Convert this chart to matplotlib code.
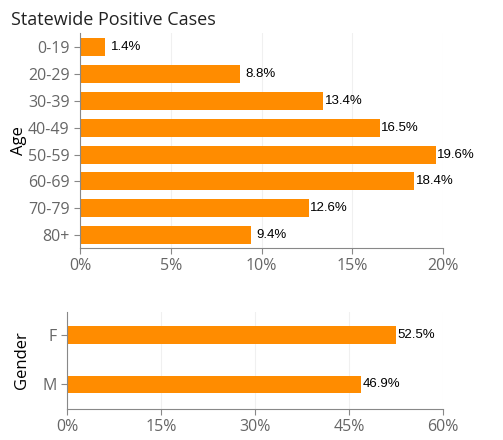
import matplotlib.pyplot as plt
from matplotlib.ticker import FuncFormatter

age_groups = ["0-19", "20-29", "30-39", "40-49", "50-59", "60-69", "70-79", "80+"]
age_pct = [1.4, 8.8, 13.4, 16.5, 19.6, 18.4, 12.6, 9.4]
age_ticks = [0, 5, 10, 15, 20]

genders = ["F", "M"]
gender_pct = [52.5, 46.9]
gender_ticks = [0, 15, 30, 45, 60]

ORANGE = "#FF8C00"
GREY = "#666666"


def style_axes(ax, ticks):
    ax.set_xlim(ticks[0], ticks[-1])
    ax.set_xticks(ticks)
    ax.xaxis.set_major_formatter(FuncFormatter(lambda v, p: f"{v:g}%"))
    for side in ["top", "right"]:
        ax.spines[side].set_visible(False)
    for side in ["left", "bottom"]:
        ax.spines[side].set_color("#888888")
    ax.tick_params(axis="both", colors="#888888", labelcolor=GREY,
                   labelsize=11.5, length=4, width=0.8)
    ax.grid(True, axis="x", color="#f0f0f0", linewidth=0.8)
    ax.set_axisbelow(True)
    for lbl in ax.get_xticklabels() + ax.get_yticklabels():
        lbl.set_fontfamily("Open Sans")


def label_bars(ax, bars, values):
    # short bars get their label a little further out, as in the original
    for bar, v in zip(bars, values):
        pad = 4 if v < 10 else 1
        ax.annotate(f"{v}%",
                    (bar.get_width(), bar.get_y() + bar.get_height() / 2),
                    xytext=(pad, 0), textcoords="offset points",
                    va="center", ha="left", fontsize=9.5,
                    color="black", family="Liberation Sans")


fig = plt.figure(figsize=(5.03, 4.40), dpi=100)

ax1 = fig.add_axes([0.159, 0.4364, 0.722, 0.489])
bars1 = ax1.barh(age_groups, age_pct, height=0.67, color=ORANGE)
ax1.set_ylim(7.47, -0.52)
style_axes(ax1, age_ticks)
label_bars(ax1, bars1, age_pct)
ax1.set_ylabel("Age", fontsize=12, family="Open Sans", labelpad=1)

ax2 = fig.add_axes([0.133, 0.0705, 0.7475, 0.2205])
bars2 = ax2.barh(genders, gender_pct, height=0.35, color=ORANGE)
ax2.set_ylim(1.5, -0.47)
style_axes(ax2, gender_ticks)
label_bars(ax2, bars2, gender_pct)
ax2.set_ylabel("Gender", fontsize=12, family="Open Sans", labelpad=9)

fig.text(0.022, 0.955, "Statewide Positive Cases", fontsize=13,
         family="Open Sans", color="#222222", va="center")

fig.savefig("out.png", dpi=100)
